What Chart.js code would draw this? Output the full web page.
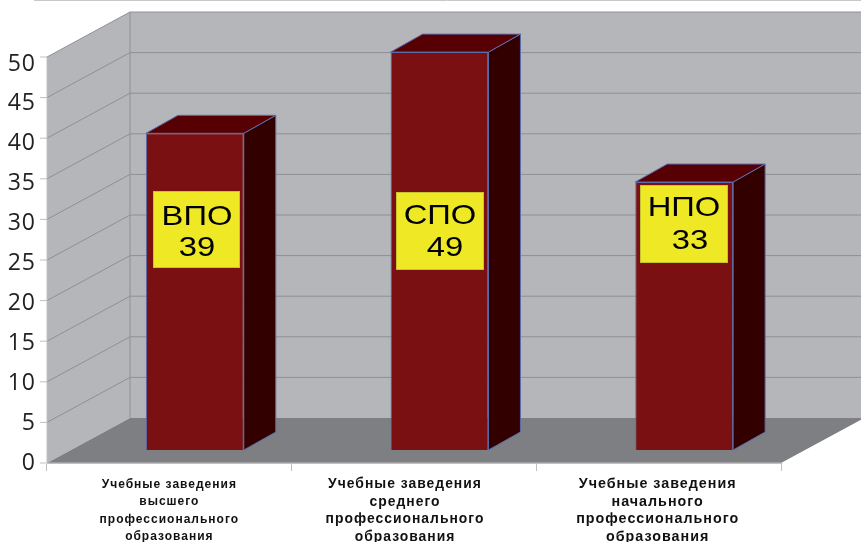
<!DOCTYPE html>
<html><head><meta charset="utf-8">
<style>html,body{margin:0;padding:0;background:#fff}canvas{display:block}</style>
<script src="https://cdn.jsdelivr.net/npm/chart.js@4"></script>
</head><body>
<canvas id="c" width="861" height="542"></canvas>
<script>
const categories = [
  ['Учебные заведения','высшего','профессионального','образования'],
  ['Учебные заведения','среднего','профессионального','образования'],
  ['Учебные заведения','начального','профессионального','образования']
];
const codes = ['ВПО','СПО','НПО'];
const values = [39,49,33];
const yTicks = [0,5,10,15,20,25,30,35,40,45,50];

// layout constants (pixels)
const wallDX = 83, wallDY = 45;   // depth of the floor / side wall
const barDX = 32, barDY = 18;     // depth of a bar
const barShiftX = 25.5, barShiftY = 13; // bar position inside the floor depth
const boxLeft = [153,396,640], boxTop = [191,192,185], boxW = [87,88,88], boxH = [77,78,78];
const codeCX = [197,440,684], codeCY = [217,216,208];
const valueCX = [197,445,690], valueCY = [248,248,241];
const labelFontSizes = [12,13.9,14.3], labelShift = [0,-9,-1];

const C = {wall:'#b5b6ba', floor:'#7e7f83', grid:'#8f9093', axis:'#c0c0c0',
  front:'#7a1012', top:'#570003', side:'#330000', edge:'#5a6cae', box:'#efe824', boxEdge:'#c8c22c'};

function poly(ctx, pts, fill, stroke){
  ctx.beginPath();
  pts.forEach((p,i)=> i?ctx.lineTo(p[0],p[1]):ctx.moveTo(p[0],p[1]));
  ctx.closePath();
  if(fill){ctx.fillStyle=fill;ctx.fill();}
  if(stroke){ctx.strokeStyle=stroke;ctx.lineWidth=1;ctx.stroke();}
}
function line(ctx, pts, color){
  ctx.beginPath();
  pts.forEach((p,i)=> i?ctx.lineTo(p[0],p[1]):ctx.moveTo(p[0],p[1]));
  ctx.strokeStyle=color;ctx.lineWidth=1;ctx.stroke();
}

const scene = {
  id:'scene',
  beforeDatasetsDraw(chart){
    const {ctx,chartArea:a,scales:{y}} = chart;
    ctx.letterSpacing='0px';
    ctx.save();
    line(ctx,[[34,0.5],[861,0.5]],'#c8c8c8');
    const L=a.left,R=a.right,T=a.top,B=a.bottom;
    poly(ctx,[[L,T],[L+wallDX,T-wallDY],[R+wallDX,T-wallDY],[R+wallDX,B-wallDY],[L+wallDX,B-wallDY],[L,B]],C.wall);
    poly(ctx,[[L,B],[L+wallDX,B-wallDY],[R+wallDX,B-wallDY],[R,B]],C.floor);
    yTicks.forEach(v=>{
      const p=y.getPixelForValue(v);
      line(ctx,[[L-7,p],[L,p]],C.axis);
      if(v>0) line(ctx,[[L,p],[L+wallDX,p-wallDY],[R+wallDX,p-wallDY]],C.grid);
    });
    line(ctx,[[L,T],[L,B]],C.axis);
    line(ctx,[[L+wallDX,T-wallDY],[L+wallDX,B-wallDY]],C.grid);
    line(ctx,[[L,B],[R,B]],C.axis);
    ctx.restore();
  },
  beforeDatasetDraw(chart,args){
    const ctx=chart.ctx;
    ctx.save();
    ctx.translate(barShiftX,-barShiftY);
    args.meta.data.forEach(b=>{
      const p=b.getProps(['x','y','base','width'],true);
      const l=p.x-p.width/2,r=p.x+p.width/2;
      poly(ctx,[[r,p.y],[r+barDX,p.y-barDY],[r+barDX,p.base-barDY],[r,p.base]],C.side,C.edge);
      poly(ctx,[[l,p.y],[l+barDX,p.y-barDY],[r+barDX,p.y-barDY],[r,p.y]],C.top,C.edge);
    });
  },
  afterDatasetDraw(chart){ chart.ctx.restore(); },
  afterDatasetsDraw(chart){
    const ctx=chart.ctx;
    ctx.save();
    ctx.textAlign='center';ctx.textBaseline='middle';ctx.fillStyle='#000';
    const stretched=(t,x,y)=>{
      ctx.save();ctx.translate(x,y);ctx.scale(1.17,1);ctx.fillStyle='#000';
      ctx.fillText(t,0,0);ctx.restore();
    };
    values.forEach((v,i)=>{
      ctx.fillStyle=C.box;ctx.strokeStyle=C.boxEdge;ctx.lineWidth=1;
      ctx.fillRect(boxLeft[i],boxTop[i],boxW[i],boxH[i]);
      ctx.strokeRect(boxLeft[i]+.5,boxTop[i]+.5,boxW[i]-1,boxH[i]-1);
      ctx.font='28px "Liberation Sans", Arial, sans-serif';
      stretched(codes[i],codeCX[i],codeCY[i]);
      stretched(String(v),valueCX[i],valueCY[i]);
    });
    ctx.restore();
  },
  beforeDraw(chart){
    chart.ctx.letterSpacing='1px';
    const items=chart.scales.x.getLabelItems();
    items.forEach((it,i)=>{
      if(!it._moved){ it.options.translation[0]+=labelShift[i]; it._moved=true; }
    });
  }
};

new Chart(document.getElementById('c'),{
  type:'bar',
  plugins:[scene],
  data:{labels:categories,datasets:[{
    data:values,yAxisID:'y',xAxisID:'x',
    backgroundColor:C.front,borderColor:C.edge,borderWidth:1,
    categoryPercentage:1,barPercentage:0.4,clip:false
  }]},
  options:{
    responsive:false,animation:false,
    layout:{padding:{top:57,right:80,left:0,bottom:0}},
    plugins:{legend:{display:false},title:{display:false},tooltip:{enabled:false}},
    scales:{
      x:{
        afterFit(s){s.height=79;},
        border:{color:C.axis,width:1},
        grid:{drawOnChartArea:false,drawTicks:true,tickLength:8,color:C.axis},
        ticks:{
          maxRotation:0,minRotation:0,autoSkip:false,padding:4.5,color:'#111',
          font:(c)=>({family:'"Liberation Sans", Arial, sans-serif',weight:'bold',
            size:labelFontSizes[c.index],lineHeight:'17.5px'})
        }
      },
      y:{display:false,min:0,max:50},
      yLabels:{
        position:'left',min:0,max:50.88,
        afterFit(s){s.width=47;},
        afterBuildTicks(s){s.ticks=yTicks.map(v=>({value:v}));},
        border:{display:false},
        grid:{display:false,drawTicks:false},
        ticks:{color:'#222',autoSkip:false,padding:11,font:{family:'"Open Sans", sans-serif',size:23}}
      }
    }
  }
});
</script>
</body></html>
